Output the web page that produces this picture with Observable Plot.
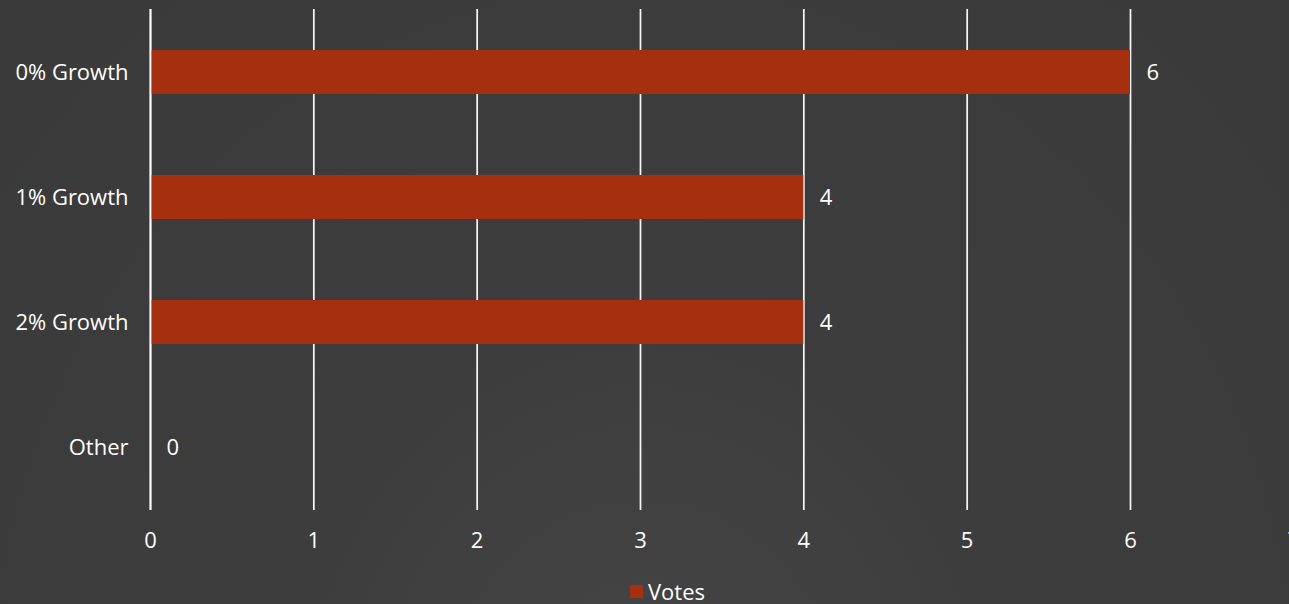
<!DOCTYPE html>
<html>
<head>
<meta charset="utf-8">
<script src="https://cdn.jsdelivr.net/npm/d3@7"></script>
<script src="https://cdn.jsdelivr.net/npm/@observablehq/plot@0.6"></script>
<style>
  html, body { margin: 0; padding: 0; width: 1289px; height: 604px; overflow: hidden; }
  body { background: radial-gradient(ellipse at 50% 120%, #454545 0%, #3d3d3d 40%, #3a3a3a 100%); font-family: "Open Sans", sans-serif; color: #fff; }
  #chart { width: 1314px; }
  #chart svg { display: block; max-width: none !important; }
  #legend { position: absolute; left: 630px; top: 578px; display: flex; align-items: center; font-size: 22px; color: #fff; line-height: 26px; }
  #legend .sw { width: 13px; height: 13px; background: #a62f10; margin-right: 5px; }
</style>
</head>
<body>
<div id="chart"></div>
<div id="legend"><span class="sw"></span><span>Votes</span></div>
<script>
const categories = ["0% Growth", "1% Growth", "2% Growth", "Other"];
const votes = [6, 4, 4, 0];
const xTicks = [0, 1, 2, 3, 4, 5, 6, 7];
const seriesName = "Votes";

const data = categories.map((c, i) => ({category: c, value: votes[i]}));

const plot = Plot.plot({
  width: 1314,
  height: 570,
  marginLeft: 150,
  marginRight: 20.67,
  marginTop: 9,
  marginBottom: 60,
  style: {background: "transparent", color: "#fff", fontFamily: "Open Sans, sans-serif", fontSize: "22px", maxWidth: "none"},
  x: {domain: [0, 7], ticks: xTicks, tickFormat: d => String(d), tickSize: 0, tickPadding: 22, label: null},
  y: {domain: categories, paddingInner: 0.65, paddingOuter: 0.325, tickSize: 0, tickPadding: 22, label: null},
  marks: [
    Plot.ruleX(xTicks, {stroke: "#ffffff", strokeWidth: 1.75, strokeOpacity: 0.95}),
    Plot.barX(data, {y: "category", x: "value", fill: "#a62f10"}),
    Plot.ruleX([0], {stroke: "#ffffff", strokeWidth: 1.75}),
    Plot.text(data, {y: "category", x: "value", text: d => String(d.value), textAnchor: "start", dx: 16, fill: "#fff", fontSize: 22})
  ]
});
document.getElementById("chart").appendChild(plot);
</script>
</body>
</html>
